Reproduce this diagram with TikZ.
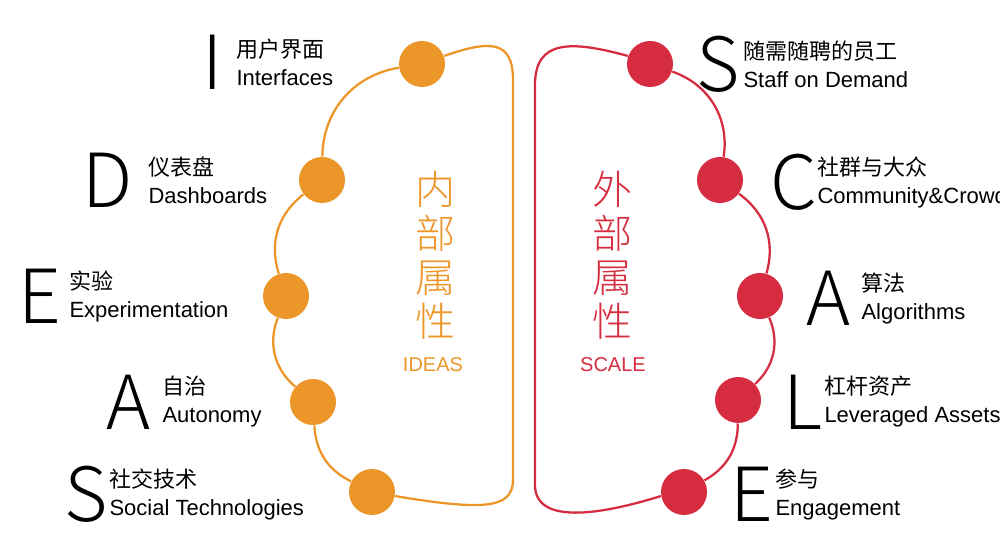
\documentclass[tikz,border=0pt]{standalone}
\usepackage{fontspec}
\setmainfont{Liberation Sans}
\newfontfamily\cjk{Noto Sans CJK SC}
\newfontfamily\cjklight{Noto Sans CJK SC Light}
\definecolor{ideasorange}{RGB}{236,150,42}
\definecolor{scalered}{RGB}{213,44,64}
\tikzset{every picture/.style={line width=0.75pt}}
\tikzset{
  dotnode/.style={circle,fill=#1,minimum size=34.5pt,inner sep=0pt},
  bigletter/.style={inner sep=0pt,font=\cjklight\fontsize{56}{56}\selectfont},
  labeltext/.style={anchor=west,inner sep=0pt,align=left,font=\fontsize{16.5}{21}\selectfont},
  rim/.style={line width=1.7pt,draw=#1}
}
\begin{document}
\begin{tikzpicture}[x=0.75pt,y=0.75pt,yscale=-1,xscale=1]
\useasboundingbox (0,0) rectangle (1000,534);

% left half
\node[dotnode=ideasorange] (li) at (422,64) {};
\node[dotnode=ideasorange] (ld) at (322,180) {};
\node[dotnode=ideasorange] (le) at (286,296) {};
\node[dotnode=ideasorange] (la) at (313,402) {};
\node[dotnode=ideasorange] (ls) at (372,492) {};
\coordinate (ltop) at (513,80);
\coordinate (lbot) at (513,480);
\draw[rim=ideasorange] (li) to[bend left=40] (ld);
\draw[rim=ideasorange] (ld) to[bend left=35] (le);
\draw[rim=ideasorange] (le) to[bend left=35] (la);
\draw[rim=ideasorange] (la) to[bend left=30] (ls);
\draw[rim=ideasorange] (li.20) .. controls (490,40) and (513,40) .. (ltop) -- (lbot) .. controls (513,510) and (480,510) .. (ls.-10);

% right half
\node[dotnode=scalered] (rs) at (650,64) {};
\node[dotnode=scalered] (rc) at (720,180) {};
\node[dotnode=scalered] (ra) at (760,296) {};
\node[dotnode=scalered] (rl) at (738,400) {};
\node[dotnode=scalered] (re) at (684,492) {};
\coordinate (rtop) at (535,85);
\coordinate (rbot) at (535,485);
\draw[rim=scalered] (rs) to[bend right=40] (rc);
\draw[rim=scalered] (rc) to[bend right=35] (ra);
\draw[rim=scalered] (ra) to[bend right=35] (rl);
\draw[rim=scalered] (rl) to[bend right=30] (re);
\draw[rim=scalered] (rs.160) .. controls (570,40) and (535,40) .. (rtop) -- (rbot) .. controls (535,525) and (600,515) .. (re.190);

% centre titles
\node[text=ideasorange,font=\cjklight\fontsize{30}{33}\selectfont,align=center] (ltitle) at (435,255) {内\\部\\属\\性};
\node[text=ideasorange,font=\fontsize{15}{15}\selectfont] (lsub) at (433,365) {IDEAS};
\node[text=scalered,font=\cjklight\fontsize{30}{33}\selectfont,align=center] (rtitle) at (612,255) {外\\部\\属\\性};
\node[text=scalered,font=\fontsize{15}{15}\selectfont] (rsub) at (613,365) {SCALE};

% left labels
\node[bigletter] (ki) at (213,62) {I};
\node[labeltext] (ti) at (236,62) {{\cjk 用户界面}\\Interfaces};
\node[bigletter] (kd) at (108,180) {D};
\node[labeltext] (td) at (148,180) {{\cjk 仪表盘}\\Dashboards};
\node[bigletter] (ke) at (40,296) {E};
\node[labeltext] (te) at (69,296) {{\cjk 实验}\\Experimentation};
\node[bigletter] (ka) at (128,402) {A};
\node[labeltext] (ta) at (162,402) {{\cjk 自治}\\Autonomy};
\node[bigletter] (ks) at (86,494) {S};
\node[labeltext] (ts) at (109,494) {{\cjk 社交技术}\\Social Technologies};

% right labels
\node[bigletter] (ks2) at (718,64) {S};
\node[labeltext] (ts2) at (743,64) {{\cjk 随需随聘的员工}\\Staff on Demand};
\node[bigletter] (kc) at (794,182) {C};
\node[labeltext] (tc) at (817,182) {{\cjk 社群与大众}\\Community\&Crowd};
\node[bigletter] (ka2) at (828,298) {A};
\node[labeltext] (ta2) at (861,298) {{\cjk 算法}\\Algorithms};
\node[bigletter] (kl) at (803,402) {L};
\node[labeltext] (tl) at (824,402) {{\cjk 杠杆资产}\\Leveraged Assets};
\node[bigletter] (ke2) at (752,494) {E};
\node[labeltext] (te2) at (775,494) {{\cjk 参与}\\Engagement};
\end{tikzpicture}
\end{document}
